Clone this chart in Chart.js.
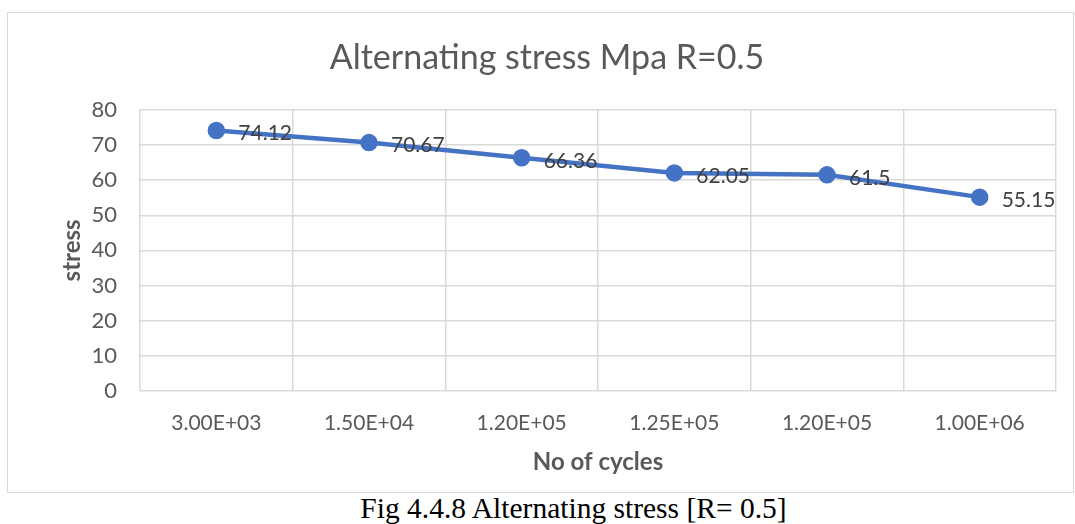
<!DOCTYPE html>
<html>
<head>
<meta charset="utf-8">
<script src="https://cdn.jsdelivr.net/npm/chart.js@4.4.0/dist/chart.umd.min.js"></script>
<style>
  body { margin: 0; background: #fff; }
  #box {
    position: absolute; left: 7px; top: 12px;
    width: 1065px; height: 479px;
    border: 1px solid #d9d9d9; background: #fff;
  }
  #caption {
    position: absolute; left: 40px; top: 492px; width: 1067px;
    text-align: center; font-family: "Liberation Serif", serif;
    font-size: 29.5px; color: #000; line-height: 32px;
  }
</style>
</head>
<body>
<div id="box"><canvas id="myChart" width="1065" height="479"></canvas></div>
<div id="caption">Fig 4.4.8 Alternating stress [R= 0.5]</div>
<script>
// chart data
const cycles = ["3.00E+03", "1.50E+04", "1.20E+05", "1.25E+05", "1.20E+05", "1.00E+06"];
const stress = [74.12, 70.67, 66.36, 62.05, 61.5, 55.15];
const stressLabels = ["74.12", "70.67", "66.36", "62.05", "61.5", "55.15"];

const fontFamily = "Lato, 'Open Sans', sans-serif";

// draw the value next to each point, Excel style (right of the marker)
const pointLabels = {
  id: "pointLabels",
  afterDatasetsDraw(chart) {
    const ctx = chart.ctx;
    const meta = chart.getDatasetMeta(0);
    ctx.save();
    ctx.font = "21px " + fontFamily;
    ctx.fillStyle = "#404040";
    ctx.textAlign = "left";
    ctx.textBaseline = "middle";
    meta.data.forEach((pt, i) => {
      ctx.fillText(stressLabels[i], pt.x + 22, pt.y + 3);
    });
    ctx.restore();
  },
};

new Chart(document.getElementById("myChart"), {
  type: "line",
  data: {
    labels: cycles,
    datasets: [
      {
        label: "stress",
        data: stress,
        fill: false,
        borderColor: "#4472C4",
        backgroundColor: "#4472C4",
        borderWidth: 4.5,
        pointRadius: 6.5,
        pointHoverRadius: 6.5,
        tension: 0,
      },
    ],
  },
  options: {
    responsive: false,
    animation: false,
    layout: { padding: { left: 30, right: 17, top: 0, bottom: 15 } },
    plugins: {
      legend: { display: false },
      tooltip: { enabled: false },
      title: {
        display: true,
        text: "Alternating stress Mpa R=0.5",
        color: "#595959",
        font: { family: fontFamily, size: 34, weight: "normal" },
        padding: { top: 25, bottom: 31 },
      },
    },
    scales: {
      x: {
        offset: true,
        grid: { color: "#d9d9d9", lineWidth: 1.5, drawTicks: false, offset: true },
        border: { display: false },
        ticks: { color: "#595959", font: { family: fontFamily, size: 21 }, padding: 20 },
        title: {
          display: true,
          text: "No of cycles",
          color: "#595959",
          font: { family: fontFamily, size: 24, weight: "bold" },
          padding: { top: 0, bottom: 0 },
        },
        afterFit: (scale) => { scale.height = 86; },
      },
      y: {
        min: 0,
        max: 80,
        ticks: { stepSize: 10, color: "#595959", font: { family: fontFamily, size: 22 }, padding: 23 },
        grid: { color: "#d9d9d9", lineWidth: 1.5, drawTicks: false },
        border: { display: false },
        title: {
          display: true,
          text: "stress",
          color: "#595959",
          font: { family: fontFamily, size: 24, weight: "bold" },
          padding: { top: 20, bottom: 20 },
        },
        afterFit: (scale) => { scale.width = 102; },
      },
    },
  },
  plugins: [pointLabels],
});
</script>
</body>
</html>
